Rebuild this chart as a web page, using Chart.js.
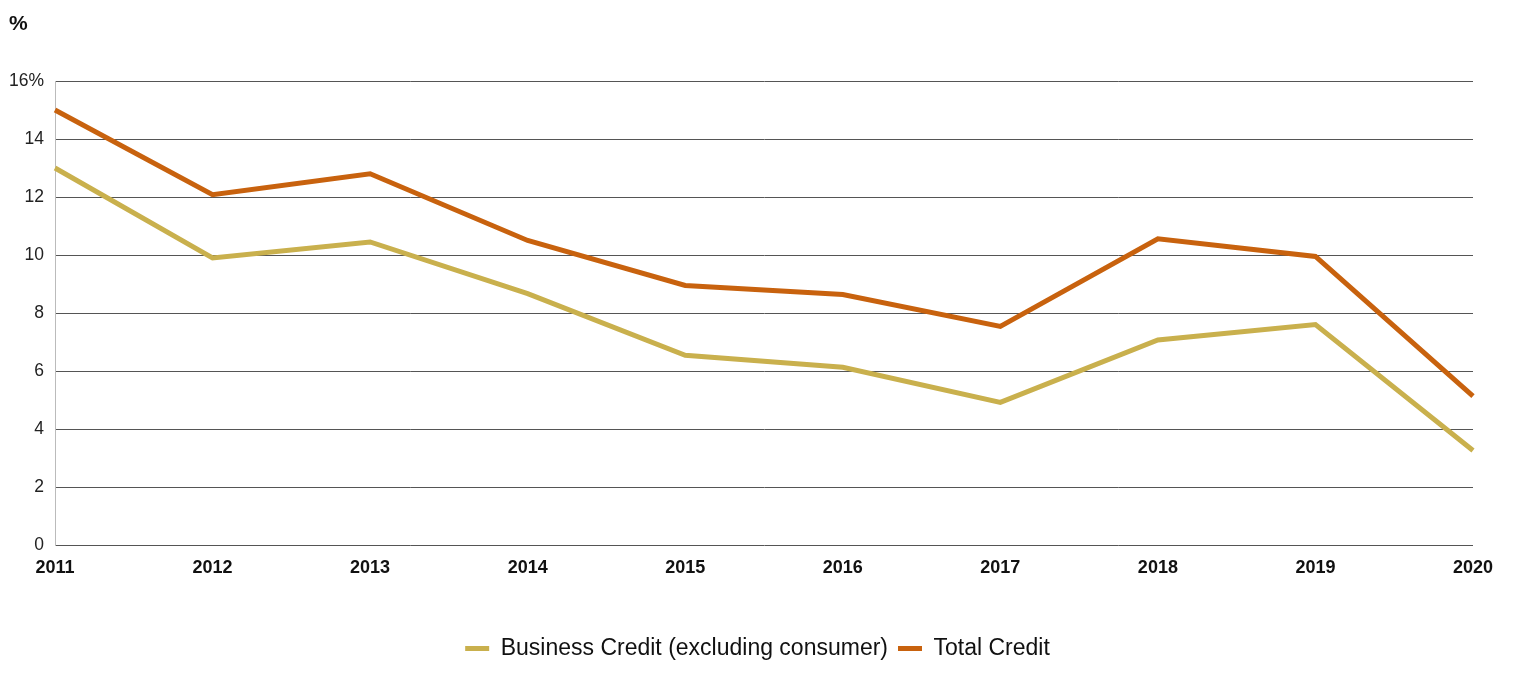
<!DOCTYPE html>
<html>
<head>
<meta charset="utf-8">
<script src="https://cdn.jsdelivr.net/npm/chart.js@4"></script>
<style>
  html, body { margin: 0; padding: 0; background: #fff; }
  #wrap { width: 1515px; height: 675px; }
</style>
</head>
<body>
<div id="wrap"><canvas id="chart"></canvas></div>
<script>
const years = ['2011', '2012', '2013', '2014', '2015', '2016', '2017', '2018', '2019', '2020'];
const businessCredit = [13.0, 9.9, 10.45, 8.67, 6.54, 6.13, 4.92, 7.07, 7.6, 3.26];
const totalCredit = [15.0, 12.08, 12.8, 10.5, 8.95, 8.64, 7.54, 10.56, 9.95, 5.13];
const yTicks = [0, 2, 4, 6, 8, 10, 12, 14, 16];

const fontFamily = '"Liberation Sans", Arial, sans-serif';

// "%" unit label top left, and legend centred on the whole page
const unitLabel = {
    id: 'unitLabel',
    afterLayout(chart) {
        const shift = (chart.width - (chart.legend.left + chart.legend.right)) / 2;
        chart.legend.left += shift;
        chart.legend.right += shift;
    },
    afterDraw(chart) {
        const ctx = chart.ctx;
        ctx.save();
        ctx.font = 'bold 21px ' + fontFamily;
        ctx.fillStyle = '#111';
        ctx.textBaseline = 'middle';
        ctx.fillText('%', 9, 24);
        ctx.restore();
    }
};

new Chart(document.getElementById('chart').getContext('2d'), {
    type: 'line',
    data: {
        labels: years,
        datasets: [
            {
                label: 'Business Credit (excluding consumer)',
                data: businessCredit,
                borderColor: '#C9B04D',
                backgroundColor: '#C9B04D',
                borderWidth: 5,
                pointRadius: 0,
                tension: 0
            },
            {
                label: 'Total Credit',
                data: totalCredit,
                borderColor: '#C8620E',
                backgroundColor: '#C8620E',
                borderWidth: 5,
                pointRadius: 0,
                tension: 0
            }
        ]
    },
    options: {
        responsive: true,
        maintainAspectRatio: false,
        animation: false,
        layout: { padding: { top: 81, right: 42, bottom: 5, left: 0 } },
        plugins: {
            legend: {
                position: 'bottom',
                labels: {
                    boxWidth: 24,
                    boxHeight: 5,
                    padding: 10,
                    color: '#111',
                    font: { family: fontFamily, size: 23 },
                    generateLabels(chart) {
                        // flat line swatches, no stroke around the box
                        return Chart.defaults.plugins.legend.labels.generateLabels(chart)
                            .map(item => Object.assign(item, { lineWidth: 0 }));
                    }
                }
            },
            tooltip: { enabled: false }
        },
        scales: {
            x: {
                grid: { display: false, drawTicks: false },
                border: { display: false },
                ticks: {
                    color: '#111',
                    padding: 12,
                    maxRotation: 0,
                    font: { family: fontFamily, size: 18, weight: 'bold' }
                },
                afterFit(scale) { scale.height = 82; }
            },
            y: {
                min: 0,
                max: 16,
                afterBuildTicks(scale) { scale.ticks = yTicks.map(v => ({ value: v })); },
                grid: { color: '#555', lineWidth: 1, drawTicks: false },
                border: { display: true, color: '#bbb', width: 1 },
                ticks: {
                    color: '#222',
                    padding: 11,
                    font: { family: fontFamily, size: 17.5 },
                    callback: v => v === 16 ? '16%' : v
                },
                afterFit(scale) { scale.width = 55; }
            }
        }
    },
    plugins: [unitLabel]
});
</script>
</body>
</html>
